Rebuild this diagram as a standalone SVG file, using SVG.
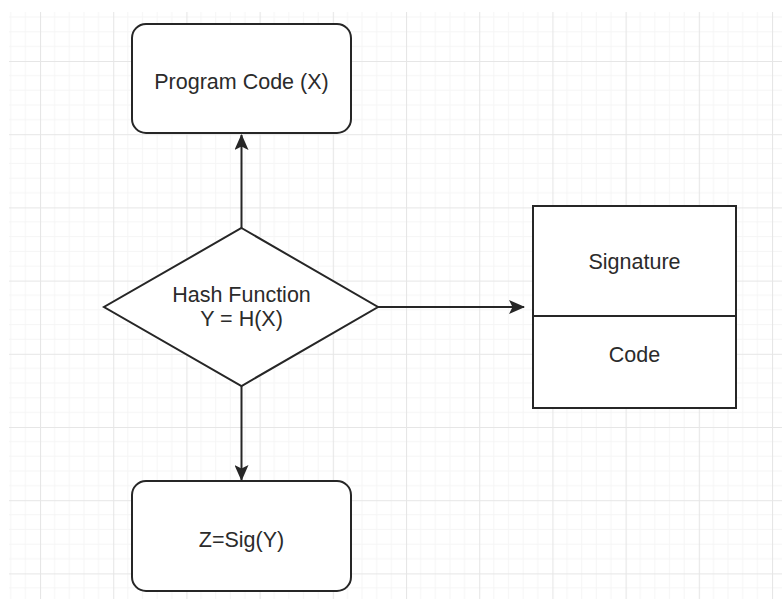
<svg xmlns="http://www.w3.org/2000/svg" width="782" height="599" viewBox="0 0 782 599">
  <style>
    .shape { fill: #ffffff; stroke: #262626; stroke-width: 2; }
    .edge { fill: none; stroke: #262626; stroke-width: 2; }
    .label { font-family: "Liberation Sans", Arial, sans-serif; font-size: 21.5px; fill: #2b2b2b; text-anchor: middle; }
  </style>
  <defs>
    <pattern id="grid" patternUnits="userSpaceOnUse" x="40" y="61" width="73.2" height="73.2">
      <path d="M14.64 0V73.2M29.28 0V73.2M43.92 0V73.2M58.56 0V73.2M0 14.64H73.2M0 29.28H73.2M0 43.92H73.2M0 58.56H73.2" stroke="#f5f5f5" stroke-width="1" fill="none"/>
      <path d="M0.5 0V73.2M0 0.5H73.2" stroke="#e6e6e6" stroke-width="1.2" fill="none"/>
    </pattern>
    <marker id="arrow" viewBox="0 0 16 14" refX="15" refY="7" markerWidth="16" markerHeight="14" markerUnits="userSpaceOnUse" orient="auto">
      <path d="M0 0L16 7L0 14L3.5 7Z" fill="#262626"/>
    </marker>
  </defs>
  <rect x="0" y="0" width="782" height="599" fill="#ffffff"/>
  <rect x="9" y="12" width="773" height="587" fill="url(#grid)"/>

  <g id="connectors">
    <path class="edge" d="M241.5 228V135" marker-end="url(#arrow)"/>
    <path class="edge" d="M241.5 386V480" marker-end="url(#arrow)"/>
    <path class="edge" d="M378 307H524" marker-end="url(#arrow)"/>
  </g>

  <g id="program-code">
    <rect class="shape" x="132" y="24" width="219" height="109" rx="14" ry="14"/>
    <text class="label" x="241.5" y="89">Program Code (X)</text>
  </g>

  <g id="hash-function">
    <polygon class="shape" points="241.5,228 378,307 241.5,386 104,307"/>
    <text class="label" x="241.5" y="302">Hash Function</text>
    <text class="label" x="241.5" y="326">Y = H(X)</text>
  </g>

  <g id="signed-package">
    <rect class="shape" x="533" y="206" width="203" height="202"/>
    <line class="edge" x1="533" y1="316" x2="736" y2="316"/>
    <text class="label" x="634.5" y="269">Signature</text>
    <text class="label" x="634.5" y="362">Code</text>
  </g>

  <g id="signature">
    <rect class="shape" x="132" y="481" width="219" height="110" rx="14" ry="14"/>
    <text class="label" x="241.5" y="547">Z=Sig(Y)</text>
  </g>
</svg>
